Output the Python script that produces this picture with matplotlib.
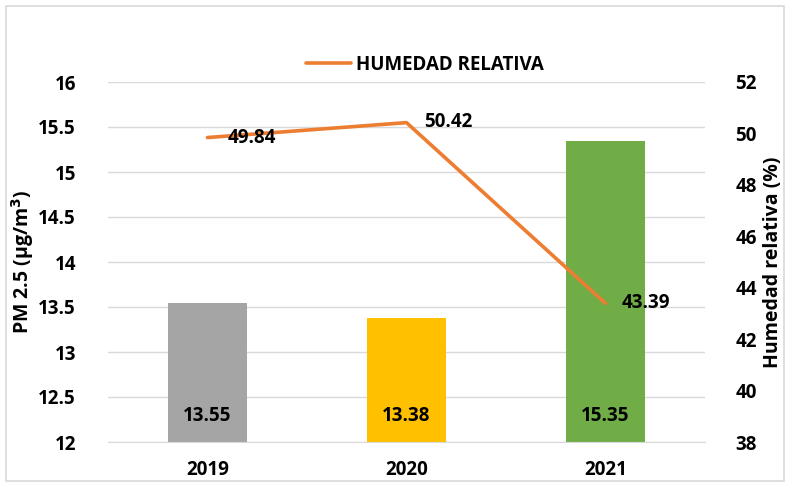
import matplotlib.pyplot as plt
from matplotlib.patches import Rectangle
import numpy as np

plt.rcParams['font.family'] = ['Open Sans', 'DejaVu Sans']
plt.rcParams['font.weight'] = 'bold'

# datos
years = ['2019', '2020', '2021']
pm25 = [13.55, 13.38, 15.35]
humedad = [49.84, 50.42, 43.39]
bar_colors = ['#A5A5A5', '#FFC000', '#70AD47']

fs = 13.5

fig = plt.figure(figsize=(7.9, 4.87), dpi=100)
ax = fig.add_axes([108/790, 1 - 442/487, (705 - 108)/790, (442 - 82)/487])
ax2 = ax.twinx()

x = np.arange(len(years))
ax.bar(x, pm25, width=0.4, color=bar_colors, zorder=2)
ax.set_ylim(12, 16)
ax.set_yticks(np.arange(12, 16.01, 0.5))
ax.set_yticklabels(['12', '12.5', '13', '13.5', '14', '14.5', '15', '15.5', '16'])
ax.set_xlim(-0.5, 2.5)
ax.set_xticks(x)
ax.set_xticklabels(years)
ax.grid(axis='y', color='#D9D9D9', linewidth=1, zorder=0)
ax.set_axisbelow(True)
ax.tick_params(axis='y', length=0, pad=23, labelsize=fs)
ax.tick_params(axis='x', length=0, pad=13, labelsize=fs)
for s in ['top', 'left', 'right']:
    ax.spines[s].set_visible(False)
ax.spines['bottom'].set_color('#D9D9D9')
ax.set_ylabel('PM 2.5 (μg/m$^\\mathbf{3}$)', fontsize=14, fontweight='bold', labelpad=2)

# etiquetas de barras
for xi, v in zip(x, pm25):
    ax.annotate(f'{v:.2f}', (xi, 12), xytext=(0, 26), textcoords='offset pixels',
                ha='center', va='center', fontsize=fs, fontweight='bold')

# humedad relativa
line, = ax2.plot(x, humedad, color='#ED7D31', linewidth=2.6, solid_capstyle='round',
                 label='HUMEDAD RELATIVA', zorder=3)
ax2.set_ylim(38, 52)
ax2.set_yticks(np.arange(38, 52.01, 2))
ax2.tick_params(axis='y', length=0, pad=22, labelsize=fs)
for s in ['top', 'left', 'right', 'bottom']:
    ax2.spines[s].set_visible(False)
ax2.set_ylabel('Humedad relativa (%)', fontsize=14, fontweight='bold', labelpad=4)

for lbl in ax.get_xticklabels() + ax.get_yticklabels() + ax2.get_yticklabels():
    lbl.set_fontweight('bold')

offsets = [(20, 0), (18, 1), (16, 0)]
for xi, v, off in zip(x, humedad, offsets):
    ax2.annotate(f'{v:.2f}', (xi, v), xytext=off, textcoords='offset pixels',
                 ha='left', va='center', fontsize=fs, fontweight='bold')

fig.legend(handles=[line], loc='center', bbox_to_anchor=(425/790, 1 - 65/487),
           frameon=False, handlelength=2.4, handletextpad=0.3,
           prop={'family': ['Open Sans', 'DejaVu Sans'], 'weight': 'bold', 'size': fs})

# marco exterior
fig.patches.append(Rectangle((6/790, 6/487), 778/790, 475/487, transform=fig.transFigure,
                             fill=False, edgecolor='#D9D9D9', linewidth=1.2))

fig.savefig('out.png', dpi=100)
